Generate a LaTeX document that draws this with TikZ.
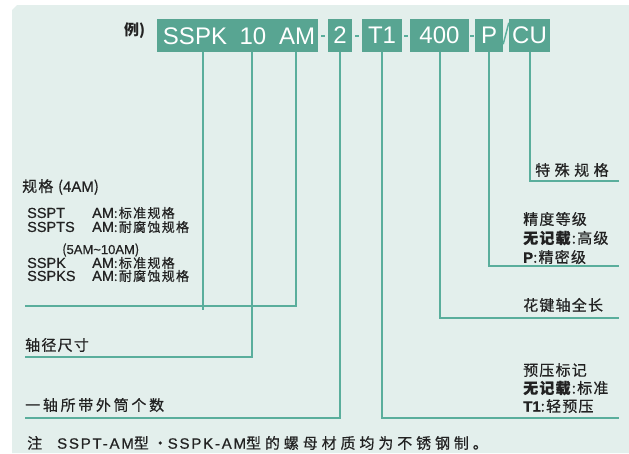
\documentclass[tikz,border=0pt]{standalone}
\usepackage{fontspec}
\setmainfont{Noto Sans CJK SC}
\newfontfamily\codefont{Liberation Sans}
\newfontfamily\latfont{Liberation Sans}[FakeBold=0.6]
\definecolor{bgc}{HTML}{E3EFEC}
\definecolor{boxc}{HTML}{58A592}
\definecolor{leadc}{HTML}{5AAE9C}
\definecolor{inkc}{HTML}{222222}
\newcommand\lat[1]{{\latfont #1}}
\newcommand\rowlat[1]{{\latfont\fontsize{14.5}{14}\selectfont #1}}
\newcommand\typerow[2]{\makebox[65pt][l]{\rowlat{#1}}\rowlat{AM}:#2}

\begin{document}
\begin{tikzpicture}[x=1pt,y=-1pt,
	codebox/.style={fill=boxc,minimum height=33pt,inner sep=0pt,text=white,font=\codefont\fontsize{24}{24}\selectfont},
	codetext/.style={inner sep=0pt,text=white,font=\codefont\fontsize{24}{24}\selectfont},
	lead/.style={draw=leadc,line width=2pt},
	lbl/.style={anchor=west,inner sep=0pt,text=inkc,font=\fontsize{15}{17}\selectfont\addfontfeature{LetterSpace=8,FakeBold=0.6}},
	small/.style={lbl,font=\fontsize{13}{14}\selectfont\addfontfeature{LetterSpace=10,FakeBold=0.6}}]
	\useasboundingbox (0,0) rectangle (629,453);
	\fill[bgc] (12,10) -- (17,5) -- (629,5) -- (629,453) -- (12,453) -- cycle;

	% code boxes
	\node[codebox,minimum width=161pt] (code) at (237.5,35.5) {};
	\node[codetext] (kind) at (195,36) {SSPK};
	\node[codetext] (size) at (253,36) {10};
	\node[codetext] (am) at (297,36) {AM};
	\node[codebox,minimum width=24pt] (num) at (340,35.5) {2};
	\node[codebox,minimum width=40pt] (tone) at (382,35.5) {T1};
	\node[codebox,minimum width=59pt] (len) at (439.5,35.5) {400};
	\node[codebox,minimum width=28pt] (prec) at (489,35.5) {P};
	\node[codebox,minimum width=41pt] (cu) at (529.5,35.5) {CU};
	\node[lbl,font=\bfseries\fontsize{15}{15}\selectfont] (eg) at (124,31) {例)};

	\draw[lead] ([xshift=3pt]code.east) -- ([xshift=-3pt]num.west);
	\draw[lead] ([xshift=3pt]num.east) -- ([xshift=-3pt]tone.west);
	\draw[lead] ([xshift=2pt]tone.east) -- ([xshift=-2pt]len.west);
	\draw[lead] ([xshift=1pt]len.east) -- ([xshift=-1pt]prec.west);
	\draw[lead,line width=1.5pt] ([yshift=8pt]prec.south east) -- ([yshift=-4pt]cu.north west);

	% left labels
	\node[lbl] (spec) at (22,187) {规格 (\lat{4AM})};
	\node[small] (pt) at (27,213) {\typerow{SSPT}{标准规格}};
	\node[small] (pts) at (27,227) {\typerow{SSPTS}{耐腐蚀规格}};
	\node[small] (range) at (62,250) {(\lat{5AM\textasciitilde 10AM})};
	\node[small] (pk) at (27,263) {\typerow{SSPK}{标准规格}};
	\node[small] (pks) at (27,276) {\typerow{SSPKS}{耐腐蚀规格}};
	\node[lbl] (dia) at (25,345) {轴径尺寸};
	\node[lbl,font=\fontsize{15}{17}\selectfont\addfontfeature{LetterSpace=18,FakeBold=0.6}] (count) at (25,405) {一轴所带外筒个数};
	\node[lbl,font=\fontsize{15}{17}\selectfont\addfontfeature{LetterSpace=26,FakeBold=0.6}] (note) at (27,443)
		{注\quad{\latfont\addfontfeature{LetterSpace=12}SSPT-AM}型・{\latfont\addfontfeature{LetterSpace=12}SSPK-AM}型的螺母材质均为不锈钢制。};

	% right labels
	\node[lbl,font=\fontsize{15}{17}\selectfont\addfontfeature{LetterSpace=30,FakeBold=0.6}] (special) at (535,170) {特殊规格};
	\node[lbl] (grade) at (523,219) {精度等级};
	\node[lbl] (grade1) at (523,238) {\textbf{无记载}:高级};
	\node[lbl] (grade2) at (523,257) {\lat{\textbf{P}}:精密级};
	\node[lbl] (length) at (523,305) {花键轴全长};
	\node[lbl] (preload) at (523,370) {预压标记};
	\node[lbl] (preload1) at (523,388) {\textbf{无记载}:标准};
	\node[lbl] (preload2) at (523,406) {\lat{\textbf{T1}}:轻预压};

	% leader lines
	\coordinate (kindfoot) at (203,52);
	\coordinate (sizefoot) at (252,52);
	\coordinate (amfoot) at (296,52);
	\coordinate (specend) at (25,306);
	\coordinate (diaend) at (25,357);
	\coordinate (countend) at (25,418);
	\coordinate (preloadend) at (619,418);
	\coordinate (lengthend) at (619,318);
	\coordinate (gradeend) at (619,266);
	\coordinate (specialend) at (619,181);
	\draw[lead] (kindfoot) -- ++(0,258);
	\draw[lead] (amfoot) |- (specend);
	\draw[lead] (sizefoot) |- (diaend);
	\draw[lead] (num.south) |- (countend);
	\draw[lead] (tone.south) |- (preloadend);
	\draw[lead] (len.south) |- (lengthend);
	\draw[lead] (prec.south) |- (gradeend);
	\draw[lead] (cu.south) |- (specialend);
\end{tikzpicture}
\end{document}
